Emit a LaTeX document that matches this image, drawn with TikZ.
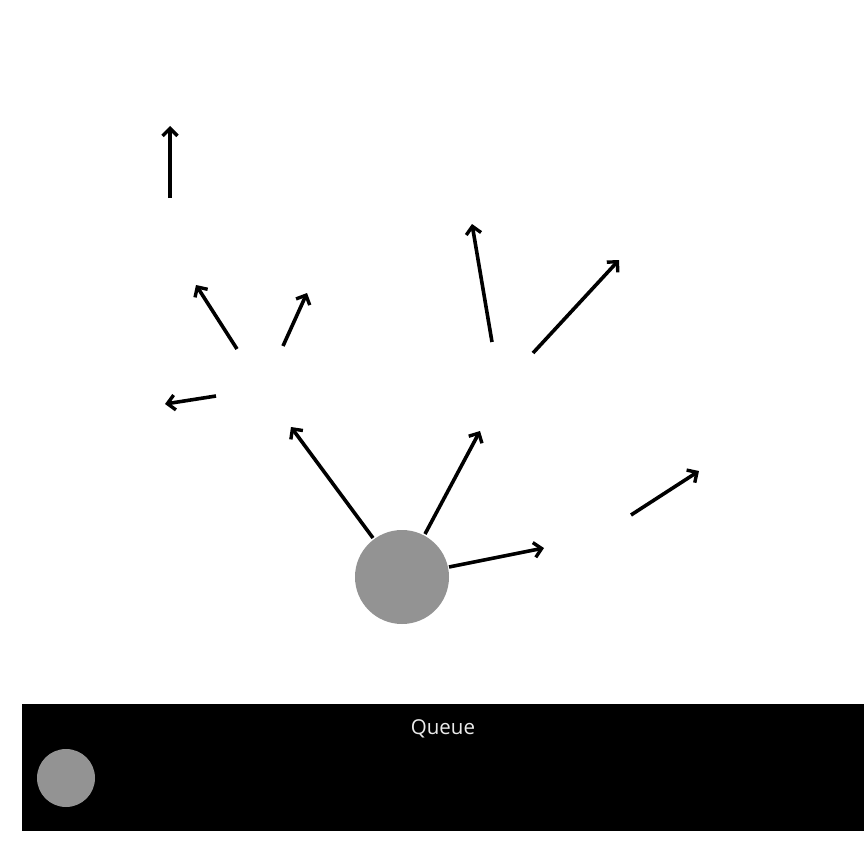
\documentclass[tikz,border=0pt]{standalone}
\usepackage{fontspec}
\setsansfont{Open Sans}
\usetikzlibrary{arrows.meta}
\begin{document}
\begin{tikzpicture}[x=1pt,y=-1pt,
  vec/.style={line width=3.6pt,-{Straight Barb[length=7.5pt,width=15pt,line width=3.4pt]}},
  ball/.style={circle,fill=ballgrey,draw=none,inner sep=0pt}]
\definecolor{ballgrey}{HTML}{939393}
\useasboundingbox[fill=white] (0,0) rectangle (864,864);
% queue bar
\node[fill=black,minimum width=842pt,minimum height=127pt,inner sep=0pt,anchor=north west] (queue) at (22,704) {};
\node[text=white!92!black,font=\sffamily\fontsize{20.5pt}{22pt}\selectfont] (qlabel) at (443,728.5) {Queue};
\node[ball,minimum size=58pt] (qball) at (66,778) {};
% main ball
\node[ball,minimum size=94pt] (main) at (402,577) {};
% arrows
\coordinate (a1s) at (170,198); \coordinate (a1e) at (170,126);
\coordinate (a2s) at (237,349); \coordinate (a2e) at (196,285);
\coordinate (a3s) at (283,346); \coordinate (a3e) at (307,293);
\coordinate (a4s) at (216,396); \coordinate (a4e) at (165,404);
\coordinate (a5s) at (373,538); \coordinate (a5e) at (291,427);
\coordinate (a6s) at (425,534); \coordinate (a6e) at (480,431);
\coordinate (a7s) at (449,567); \coordinate (a7e) at (544,548);
\coordinate (a8s) at (492,342); \coordinate (a8e) at (472,224);
\coordinate (a9s) at (533,353); \coordinate (a9e) at (619,260);
\coordinate (a10s) at (631,515); \coordinate (a10e) at (699,471);
\foreach \i in {1,...,10} \draw[vec] (a\i s) -- (a\i e);
\end{tikzpicture}
\end{document}
